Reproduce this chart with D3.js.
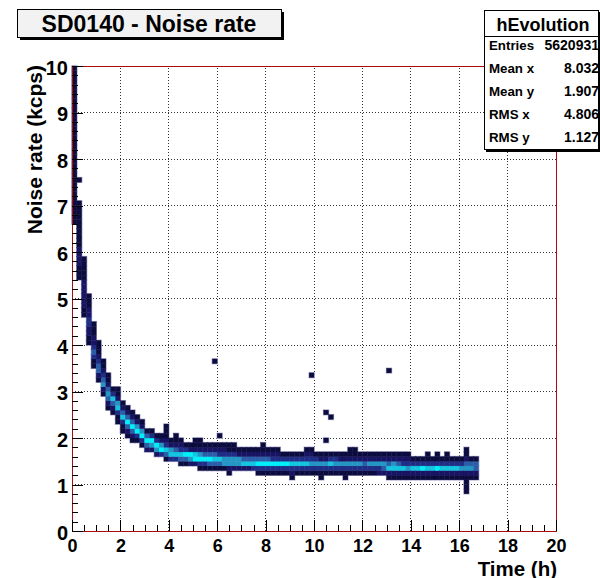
<!DOCTYPE html>
<html>
<head>
<meta charset="utf-8">
<script src="https://cdn.jsdelivr.net/npm/d3@7"></script>
<style>
  body { margin: 0; background: #fff; }
  svg text { font-family: "Liberation Sans", Arial, sans-serif; font-weight: bold; }
</style>
</head>
<body>
<div id="chart"></div>
<script>
// 2D histogram hEvolution: x bins of 0.2 h, y bins of 0.1 kcps
// one entry per x bin (starting at 0 h): lowest filled y bin, then colour level of each cell going up
const colLo = [
  66, 54, 46, 40, 35, 32, 29, 26, 25, 23,
  21, 20, 19, 19, 18, 17, 17, 16, 16, 15,
  15, 15, 14, 14, 14, 14, 13, 13, 13, 13,
  13, 13, 12, 13, 13, 13, 13, 13, 12, 12,
  12, 12, 12, 12, 12, 11, 12, 12, 12, 12,
  12, 11, 12, 12, 12, 12, 11, 12, 12, 12,
  12, 12, 12, 12, 12, 11, 11, 11, 11, 11,
  11, 11, 11, 11, 11, 11, 11, 11, 11, 11,
  11, 8, 11, 11
];
const colLevels = [
  "1111111111111111111111111111111111", "11122221111111111", "1122222211111", "11223322111", "1134322111",
  "124432111", "12543211", "12454211", "124631", "11365211",
  "1136421", "1247421", "1247421", "137521", "137521",
  "24741", "25731", "25731", "37521", "14632111",
  "36521", "364211", "146321", "14731", "25721",
  "276211", "1375211", "137421", "147421", "146421",
  "146321", "155321", "1255311", "255311", "25521",
  "26421", "26421", "36421", "137421", "1374211",
  "137421", "137321", "137321", "13731", "13731",
  "123631", "13631", "13631", "136321", "135321",
  "13531", "113521", "13521", "13631", "13531",
  "13521", "113521", "135211", "135211", "13521",
  "13421", "13521", "13521", "23521", "24521",
  "126421", "126521", "126421", "126321", "125321",
  "12631", "12631", "12731", "126311", "12631",
  "127311", "12631", "126311", "12631", "12631",
  "12531", "1111254211", "12541", "12441"
];
// isolated cells (x bin, y bin)
const outCol = [1, 29, 30, 49, 52, 52, 53, 65];
const outBin = [75, 36, 20, 33, 25, 19, 24, 34];

const palette = ["#0c0b3e", "#181463", "#1f2d85", "#2a5ea8", "#2496c4", "#12c6e0", "#00f0fa"];

const xBinW = 0.2, yBinH = 0.1;
const yTicks = [0, 1, 2, 3, 4, 5, 6, 7, 8, 9, 10];
const xTicks = [0, 2, 4, 6, 8, 10, 12, 14, 16, 18, 20];

const statLabels = ["Entries", "Mean x", "Mean y", "RMS x", "RMS y"];
const statValues = ["5620931", "8.032", "1.907", "4.806", "1.127"];

const width = 600, height = 578;
const margin = { top: 66, right: 44, bottom: 47, left: 72 };

const svg = d3.select("#chart").append("svg")
  .attr("width", width)
  .attr("height", height);

const x = d3.scaleLinear().domain([0, 20]).range([margin.left, width - margin.right]);
const y = d3.scaleLinear().domain([0, 10]).range([height - margin.bottom, margin.top]);

// build cell list from the column data
const cells = [];
colLo.forEach((lo, i) => {
  colLevels[i].split("").forEach((lv, k) => {
    cells.push({ col: i, bin: lo + k, level: +lv });
  });
});
outCol.forEach((c, i) => cells.push({ col: c, bin: outBin[i], level: 1 }));

// grid
const grid = svg.append("g").attr("shape-rendering", "crispEdges");
grid.selectAll(".gx").data(xTicks.slice(1, -1)).join("line")
  .attr("x1", d => x(d)).attr("x2", d => x(d))
  .attr("y1", y(0)).attr("y2", y(10))
  .attr("stroke", "#333").attr("stroke-dasharray", "1,2");
grid.selectAll(".gy").data(yTicks.slice(1, -1)).join("line")
  .attr("x1", x(0)).attr("x2", x(20))
  .attr("y1", d => y(d)).attr("y2", d => y(d))
  .attr("stroke", "#333").attr("stroke-dasharray", "1,2");

// halo under the cells, then the cells
const cellG = svg.append("g");
const rectAttrs = sel => sel
  .attr("x", d => x(d.col * xBinW))
  .attr("y", d => y((d.bin + 1) * yBinH))
  .attr("width", d => x((d.col + 1) * xBinW) - x(d.col * xBinW))
  .attr("height", d => y(d.bin * yBinH) - y((d.bin + 1) * yBinH));
cellG.selectAll(".halo").data(cells).join("rect")
  .call(rectAttrs)
  .attr("fill", "#b8b8d8").attr("stroke", "#b8b8d8").attr("stroke-width", 1.6);
cellG.selectAll(".cell").data(cells).join("rect")
  .call(rectAttrs)
  .attr("fill", d => palette[d.level - 1])
  .attr("stroke", d => palette[d.level - 1]).attr("stroke-width", 0.3);

// frame
svg.append("rect")
  .attr("x", x(0) + 0.5).attr("y", y(10) + 0.5)
  .attr("width", x(20) - x(0)).attr("height", y(0) - y(10))
  .attr("fill", "none").attr("stroke", "#a80c0c").attr("stroke-width", 1)
  .attr("shape-rendering", "crispEdges");

// axes
const yAxis = svg.append("g").attr("transform", `translate(${x(0)},0)`)
  .call(d3.axisLeft(y).tickValues(yTicks).tickSize(-11).tickPadding(4).tickFormat(d3.format("d")));
svg.append("g").attr("transform", `translate(${x(0)},0)`)
  .call(d3.axisLeft(y).ticks(50).tickSize(-6).tickFormat(""));
const xAxis = svg.append("g").attr("transform", `translate(0,${y(0)})`)
  .call(d3.axisBottom(x).tickValues(xTicks).tickSize(-11).tickPadding(8).tickFormat(d3.format("d")));
svg.append("g").attr("transform", `translate(0,${y(0)})`)
  .call(d3.axisBottom(x).ticks(40).tickSize(-6).tickFormat(""));

svg.selectAll(".domain").remove();
svg.selectAll(".tick line").attr("stroke", "#000").attr("shape-rendering", "crispEdges");
svg.selectAll(".tick text").attr("fill", "#000")
  .style("font-family", "'Liberation Sans', Arial, sans-serif");
xAxis.selectAll(".tick text").attr("font-size", 18);
yAxis.selectAll(".tick text").attr("font-size", 20).attr("dy", "0.4em");

// axis titles
svg.append("text")
  .attr("transform", `translate(41.5,${y(10) - 1}) rotate(-90)`)
  .attr("text-anchor", "end")
  .attr("font-size", 21)
  .text("Noise rate (kcps)");
svg.append("text")
  .attr("x", x(20) + 1).attr("y", 575.5)
  .attr("text-anchor", "end")
  .attr("font-size", 20.5)
  .text("Time (h)");

// title box
svg.append("rect").attr("x", 20).attr("y", 12).attr("width", 264).attr("height", 28).attr("fill", "#000");
svg.append("rect").attr("x", 17.5).attr("y", 9.5).attr("width", 264).attr("height", 28)
  .attr("fill", "#f2f2f2").attr("stroke", "#000").attr("stroke-width", 1);
svg.append("text")
  .attr("x", 149).attr("y", 32)
  .attr("text-anchor", "middle")
  .attr("font-size", 23)
  .text("SD0140 - Noise rate");

// stats box
svg.append("rect").attr("x", 486).attr("y", 12).attr("width", 114).attr("height", 140).attr("fill", "#000");
svg.append("rect").attr("x", 484.5).attr("y", 10.5).attr("width", 114).attr("height", 139)
  .attr("fill", "#fff").attr("stroke", "#000").attr("stroke-width", 1);
svg.append("line").attr("x1", 484).attr("x2", 598).attr("y1", 36.5).attr("y2", 36.5)
  .attr("stroke", "#000");
svg.append("text")
  .attr("x", 543).attr("y", 31)
  .attr("text-anchor", "middle")
  .attr("font-size", 18)
  .text("hEvolution");
statLabels.forEach((lab, i) => {
  const yy = 50 + i * 23;
  svg.append("text").attr("x", 489).attr("y", yy).attr("font-size", 13.3).text(lab);
  svg.append("text").attr("x", 599).attr("y", yy).attr("text-anchor", "end")
    .attr("font-size", 14).text(statValues[i]);
});
</script>
</body>
</html>
